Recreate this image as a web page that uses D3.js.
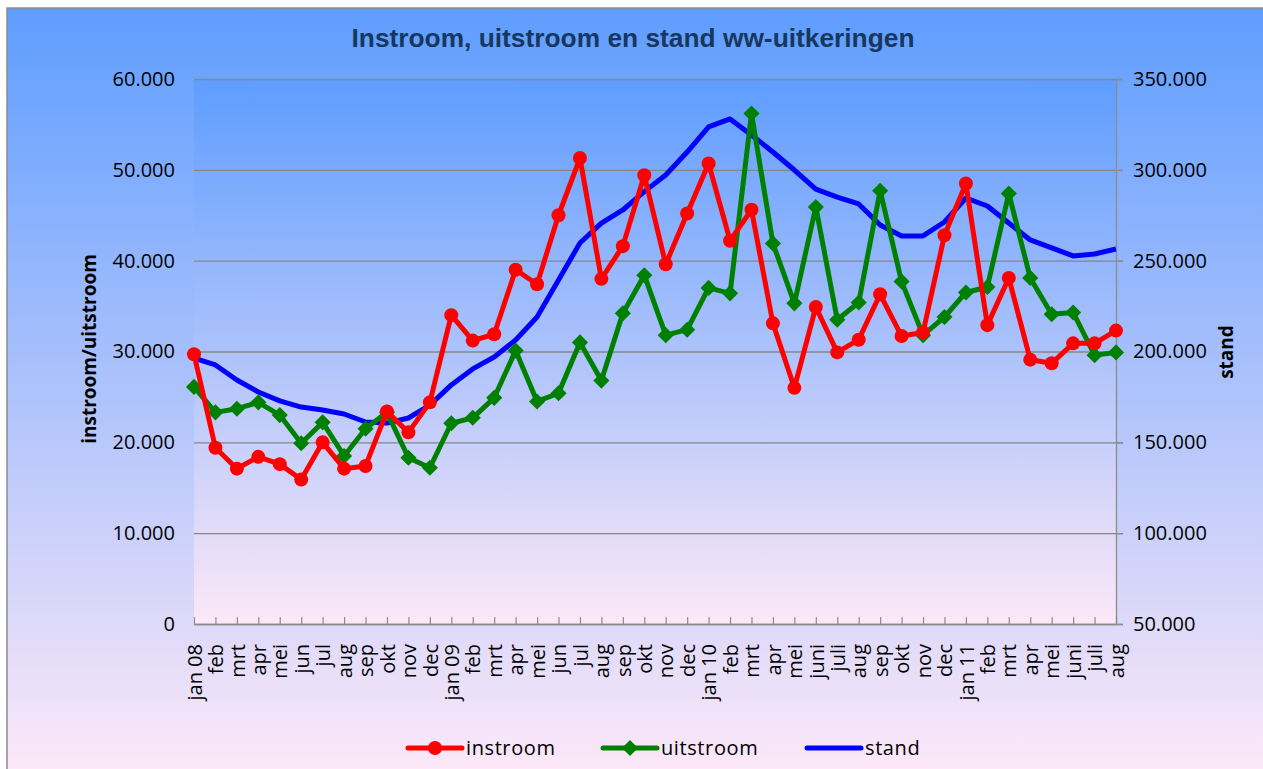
<!DOCTYPE html>
<html>
<head>
<meta charset="utf-8">
<script src="https://cdn.jsdelivr.net/npm/d3@7"></script>
<style>
  html, body { margin: 0; padding: 0; background: #fff; }
  svg { display: block; }
  text { font-family: "Open Sans", "DejaVu Sans", sans-serif; fill: #000; }
</style>
</head>
<body>
<svg id="chart" width="1263" height="769"></svg>
<script>
// maanden (categorieen)
const months = ["jan 08","feb","mrt","apr","mei","jun","jul","aug","sep","okt","nov","dec",
  "jan 09","feb","mrt","apr","mei","jun","jul","aug","sep","okt","nov","dec",
  "jan 10","feb","mrt","apr","mei","juni","juli","aug","sep","okt","nov","dec",
  "jan 11","feb","mrt","apr","mei","juni","juli","aug"];

const instroom = [29700,19400,17100,18400,17600,15900,20000,17100,17400,23400,21100,24400,
  34000,31200,31900,39000,37400,45000,51300,38000,41600,49400,39600,45200,
  50700,42200,45600,33100,26000,34900,29900,31300,36300,31700,32100,42800,
  48500,32900,38100,29100,28700,30900,30900,32300];

const uitstroom = [26100,23300,23700,24400,23000,19900,22200,18500,21500,23300,18300,17200,
  22100,22700,24900,30100,24500,25400,31000,26800,34200,38400,31800,32400,
  37000,36400,56200,41900,35300,45900,33500,35400,47700,37700,31800,33800,
  36500,37100,47400,38100,34100,34300,29600,29900];

const stand = [196400,192600,184300,177700,172800,169400,167800,165600,161200,160600,163400,170500,
  181600,190400,197000,206300,219000,239400,259700,270700,277900,288000,297200,309800,
  323600,328000,319200,309800,299900,289400,285000,281200,269600,263600,263600,271300,
  284500,280100,270700,261400,257000,252600,253700,256400];

const leftTicks = [0,10000,20000,30000,40000,50000,60000];
const rightTicks = [50000,100000,150000,200000,250000,300000,350000];

const svg = d3.select("#chart");
const plot = { left: 194, right: 1116, top: 79, bottom: 624 };
const nl = d3.formatLocale({ decimal: ",", thousands: ".", grouping: [3], currency: ["€", ""] });
const fmt = nl.format(",d");

// achtergrond gradients
const defs = svg.append("defs");
function grad(id, y1, y2) {
  const g = defs.append("linearGradient").attr("id", id)
    .attr("gradientUnits", "userSpaceOnUse")
    .attr("x1", 0).attr("x2", 0).attr("y1", y1).attr("y2", y2);
  g.append("stop").attr("offset", "0%").attr("stop-color", "#5e9dff");
  g.append("stop").attr("offset", "100%").attr("stop-color", "#fce8f8");
}
grad("bgOuter", 8, 769);
grad("bgPlot", plot.top, plot.bottom);

svg.append("rect").attr("x", 7).attr("y", 8).attr("width", 1270).attr("height", 780)
  .attr("fill", "url(#bgOuter)").attr("stroke", "#8c8c8c").attr("stroke-width", 1.5);
svg.append("rect").attr("x", plot.left).attr("y", plot.top)
  .attr("width", plot.right - plot.left).attr("height", plot.bottom - plot.top)
  .attr("fill", "url(#bgPlot)");

const x = d3.scalePoint().domain(d3.range(months.length)).range([plot.left, plot.right]);
const yL = d3.scaleLinear().domain([0, 60000]).range([plot.bottom, plot.top]);
const yR = d3.scaleLinear().domain([50000, 350000]).range([plot.bottom, plot.top]);

// gridlines
svg.append("g").attr("transform", `translate(${plot.left},0)`)
  .call(d3.axisLeft(yL).tickValues(leftTicks).tickSize(-(plot.right - plot.left + 7)).tickFormat(""))
  .call(g => g.select(".domain").remove())
  .call(g => g.selectAll("line").attr("stroke", "#868686").attr("stroke-width", 1.3));

// linker as
svg.append("g").attr("transform", `translate(${plot.left},0)`)
  .call(d3.axisLeft(yL).tickValues(leftTicks).tickSize(0).tickPadding(19).tickFormat(fmt))
  .call(g => g.select(".domain").remove())
  .call(g => g.selectAll("text").attr("font-size", 20).attr("font-family", null).attr("fill", "#111"));

// rechter as
svg.append("g").attr("transform", `translate(${plot.right},0)`)
  .call(d3.axisRight(yR).tickValues(rightTicks).tickSize(7).tickPadding(10).tickFormat(fmt).tickSizeOuter(0))
  .call(g => g.select(".domain").attr("stroke", "#8c8c8c").attr("stroke-width", 1.3))
  .call(g => g.selectAll("line").attr("stroke", "#8c8c8c").attr("stroke-width", 1.3))
  .call(g => g.selectAll("text").attr("font-size", 20).attr("font-family", null).attr("fill", "#111"));

// x-as
svg.append("g").attr("transform", `translate(0,${plot.bottom})`)
  .call(d3.axisBottom(x).tickSize(-7).tickSizeOuter(0).tickFormat(i => months[i]))
  .call(g => g.select(".domain").attr("stroke", "#8c8c8c").attr("stroke-width", 1.5))
  .call(g => g.selectAll("line").attr("stroke", "#8c8c8c").attr("stroke-width", 1.2))
  .call(g => g.selectAll("text")
    .attr("font-size", 20).attr("font-family", null).attr("fill", "#111")
    .attr("transform", "rotate(-90)")
    .attr("x", -20).attr("y", 0).attr("dy", "0.36em")
    .attr("text-anchor", "end"));

// as-titels
svg.append("text").attr("transform", "translate(96,349) rotate(-90)")
  .attr("text-anchor", "middle").attr("font-size", 19).attr("font-weight", "bold")
  .text("instroom/uitstroom");
svg.append("text").attr("transform", "translate(1233,352) rotate(-90)")
  .attr("text-anchor", "middle").attr("font-size", 19).attr("font-weight", "bold")
  .text("stand");

// titel
svg.append("text").attr("x", 633).attr("y", 47)
  .attr("text-anchor", "middle").attr("font-size", 25).attr("font-weight", "bold")
  .style("font-family", "'Liberation Sans Narrow', 'Liberation Sans', Arial, sans-serif")
  .style("fill", "#17375e")
  .attr("textLength", 563).attr("lengthAdjust", "spacingAndGlyphs")
  .text("Instroom, uitstroom en stand ww-uitkeringen");

// lijnen
const lineL = d3.line().x((d, i) => x(i)).y(d => yL(d));
const lineR = d3.line().x((d, i) => x(i)).y(d => yR(d));
// ruit = vierkant 45 graden gedraaid
const diamond = d3.symbol().type(d3.symbolSquare).size(130);

svg.append("path").datum(stand).attr("d", lineR)
  .attr("fill", "none").attr("stroke", "#0000ff").attr("stroke-width", 5).attr("stroke-linejoin", "round");

svg.append("path").datum(uitstroom).attr("d", lineL)
  .attr("fill", "none").attr("stroke", "#008000").attr("stroke-width", 5).attr("stroke-linejoin", "round");
svg.append("g").selectAll("path").data(uitstroom).join("path")
  .attr("transform", (d, i) => `translate(${x(i)},${yL(d)}) rotate(45)`)
  .attr("d", diamond).attr("fill", "#008000");

svg.append("path").datum(instroom).attr("d", lineL)
  .attr("fill", "none").attr("stroke", "#ff0000").attr("stroke-width", 5).attr("stroke-linejoin", "round");
svg.append("g").selectAll("circle").data(instroom).join("circle")
  .attr("cx", (d, i) => x(i)).attr("cy", d => yL(d)).attr("r", 7).attr("fill", "#ff0000");

// legenda
const legend = [
  { name: "instroom", color: "#ff0000", marker: "circle", x: 408 },
  { name: "uitstroom", color: "#008000", marker: "diamond", x: 603 },
  { name: "stand", color: "#0000ff", marker: null, x: 807 }
];
const lg = svg.append("g").selectAll("g").data(legend).join("g")
  .attr("transform", d => `translate(${d.x},748)`);
lg.append("line").attr("x1", 0).attr("x2", 54).attr("y1", 0).attr("y2", 0)
  .attr("stroke", d => d.color).attr("stroke-width", 5).attr("stroke-linecap", "round");
lg.filter(d => d.marker === "circle").append("circle").attr("cx", 27).attr("r", 7).attr("fill", d => d.color);
lg.filter(d => d.marker === "diamond").append("path").attr("transform", "translate(27,0) rotate(45)")
  .attr("d", diamond).attr("fill", d => d.color);
lg.append("text").attr("x", 58).attr("y", 0).attr("dy", "0.36em")
  .attr("font-size", 20).attr("letter-spacing", 0.6).text(d => d.name);
</script>
</body>
</html>
